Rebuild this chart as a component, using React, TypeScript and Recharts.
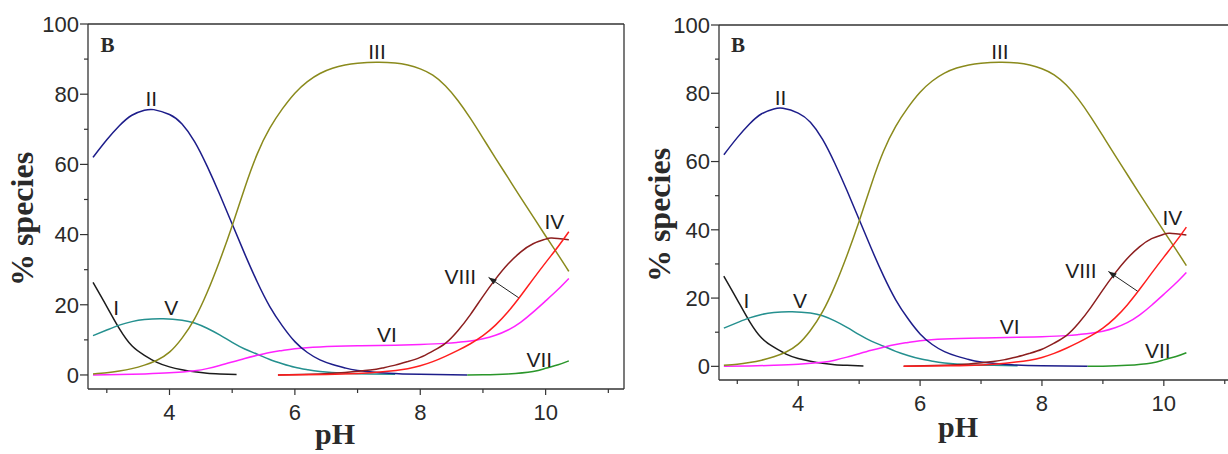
import React from 'react';
import { LineChart, Line, XAxis, YAxis, ReferenceDot, ReferenceLine } from 'recharts';

// species curves: pH grid + % values
const phI = [2.78, 3.0, 3.2, 3.4, 3.6, 3.8, 4.0, 4.2, 4.4, 4.6, 4.8, 5.07];
const spI = [26.4, 19.5, 13.2, 8.3, 5.6, 3.6, 2.3, 1.5, 0.9, 0.5, 0.3, 0.1];

const phII = [2.78, 3.0, 3.2, 3.4, 3.6, 3.75, 4.0, 4.2, 4.4, 4.6, 4.8, 5.0, 5.2, 5.4, 5.6, 5.8, 6.0, 6.2, 6.4, 6.6, 6.8, 7.0, 7.5, 8.0, 8.75];
const spII = [62, 67, 71, 74, 75.4, 75.6, 74.2, 71.5, 66.5, 59.5, 51.5, 43, 34.5, 26.5, 19.5, 14, 9.5, 6.4, 4.3, 3, 2, 1.3, 0.5, 0.2, 0];

const phIII = [2.78, 3.0, 3.2, 3.4, 3.6, 3.8, 4.0, 4.2, 4.4, 4.6, 4.8, 5.0, 5.2, 5.4, 5.6, 5.8, 6.0, 6.2, 6.4, 6.6, 6.8, 7.0, 7.3, 7.6, 7.8, 8.0, 8.2, 8.4, 8.6, 8.8, 9.0, 9.2, 9.4, 9.6, 9.8, 10.0, 10.2, 10.37];
const spIII = [0.3, 0.6, 1.1, 1.8, 2.8, 4.2, 6.5, 10.5, 16, 23.5, 32.5, 42.5, 53.3, 63, 70.3, 75.8, 80.3, 83.6, 85.9, 87.4, 88.3, 88.8, 89.1, 88.9, 88.3, 87.2, 85.4, 82.4, 78.2, 73.1, 67.5, 61.8, 56.2, 50.6, 45.1, 39.6, 34.2, 29.5];

const phIV = [5.73, 6.4, 6.8, 7.2, 7.4, 7.6, 7.8, 8.0, 8.2, 8.4, 8.6, 8.8, 9.0, 9.2, 9.4, 9.6, 9.8, 10.0, 10.1, 10.37];
const spIV = [0, 0.3, 0.7, 1.4, 2.0, 2.8, 3.8, 5.0, 6.8, 9.0, 12.6, 17.2, 22.4, 27.3, 31.6, 35.0, 37.4, 38.7, 39.0, 38.5];

const phV = [2.78, 3.0, 3.2, 3.4, 3.6, 3.9, 4.2, 4.4, 4.6, 4.8, 5.0, 5.2, 5.4, 5.6, 5.8, 6.0, 6.2, 6.4, 6.8, 7.2, 7.6];
const spV = [11.2, 12.8, 14.2, 15.2, 15.8, 16, 15.6, 14.8, 13.3, 11.4, 9.3, 7.4, 5.9, 4.4, 3.2, 2.2, 1.5, 1.0, 0.5, 0.3, 0.2];

const phVI = [2.78, 3.2, 3.6, 4.0, 4.4, 4.6, 4.8, 5.0, 5.2, 5.4, 5.6, 5.8, 6.0, 6.4, 7.0, 7.6, 8.0, 8.4, 8.6, 8.8, 9.0, 9.2, 9.4, 9.6, 9.8, 10.0, 10.2, 10.37];
const spVI = [0, 0.1, 0.3, 0.6, 1.2, 1.8, 2.7, 3.7, 4.7, 5.6, 6.4, 7.0, 7.5, 8.0, 8.3, 8.5, 8.7, 9.0, 9.3, 9.7, 10.3, 11.3, 12.8, 15.0, 17.9, 21.1, 24.4, 27.5];

const phVII = [8.75, 9.0, 9.4, 9.8, 10.0, 10.2, 10.37];
const spVII = [0, 0.05, 0.3, 1.0, 1.9, 2.9, 4.0];

const phVIII = [5.73, 6.5, 7.0, 7.4, 7.8, 8.0, 8.2, 8.4, 8.6, 8.8, 9.0, 9.2, 9.4, 9.6, 9.8, 10.0, 10.2, 10.37];
const spVIII = [0, 0.15, 0.4, 0.9, 1.8, 2.6, 3.8, 5.3, 7.0, 8.9, 11.2, 14.2, 18.0, 22.5, 27.3, 32.0, 36.6, 40.8];

// curve labels (text anchor, in pH / % units)
const labelNames = ['I', 'II', 'III', 'IV', 'V', 'VI', 'VII', 'VIII'];
const labelPh = [3.15, 3.71, 7.31, 10.14, 4.03, 7.47, 9.9, 8.64];
const labelVal = [17.2, 76.5, 90.0, 41.5, 17.2, 9.5, 2.3, 25.8];

const xMajor = [4, 6, 8, 10];
const xTicks = [3, 4, 5, 6, 7, 8, 9, 10, 11];
const yTicks = [0, 10, 20, 30, 40, 50, 60, 70, 80, 90, 100];

const zip = (xs: number[], ys: number[]) => xs.map((x, i) => ({ ph: x, v: ys[i] }));

const series = [
  { name: 'I', data: zip(phI, spI), color: '#1c1c1c' },
  { name: 'V', data: zip(phV, spV), color: '#25908f' },
  { name: 'VI', data: zip(phVI, spVI), color: '#ff22ff' },
  { name: 'II', data: zip(phII, spII), color: '#1d1d8a' },
  { name: 'VII', data: zip(phVII, spVII), color: '#2a962a' },
  { name: 'III', data: zip(phIII, spIII), color: '#8a8a1c' },
  { name: 'IV', data: zip(phIV, spIV), color: '#8c1e1e' },
  { name: 'VIII', data: zip(phVIII, spVIII), color: '#ff1e1e' },
];

const AXIS = '#333';
const TICK_FONT = '"Liberation Sans", Arial, sans-serif';
const SERIF = '"Liberation Serif", "Times New Roman", serif';

const YTick = (p: any) => {
  const v = p.payload.value;
  const major = v % 20 === 0;
  return (
    <g>
      <line x1={p.x} x2={p.x - (major ? 8 : 4)} y1={p.y} y2={p.y} stroke={AXIS} strokeWidth={1.2} />
      {major && (
        <text x={p.x - 9} y={p.y} dy="0.36em" textAnchor="end" fontSize={22} fontFamily={TICK_FONT} fill="#2a2a2a">
          {v}
        </text>
      )}
    </g>
  );
};

const XTick = (p: any) => {
  const v = p.payload.value;
  const major = xMajor.includes(v);
  return (
    <g>
      <line x1={p.x} x2={p.x} y1={p.y} y2={p.y + (major ? 6 : 4)} stroke={AXIS} strokeWidth={1.2} />
      {major && (
        <text x={p.x} y={p.y + 14} dy="0.75em" textAnchor="middle" fontSize={22} fontFamily={TICK_FONT} fill="#2a2a2a">
          {v}
        </text>
      )}
    </g>
  );
};

const Arrow = (p: any) => {
  const { x1, y1, x2, y2 } = p;
  const a = Math.atan2(y1 - y2, x1 - x2);
  const L = 8;
  const W = 3;
  const bx = x1 - L * Math.cos(a);
  const by = y1 - L * Math.sin(a);
  const pts = [
    `${x1},${y1}`,
    `${bx - W * Math.sin(a)},${by + W * Math.cos(a)}`,
    `${bx + W * Math.sin(a)},${by - W * Math.cos(a)}`,
  ].join(' ');
  return (
    <g>
      <line x1={x1} y1={y1} x2={x2} y2={y2} stroke="#222" strokeWidth={1} />
      <polygon points={pts} fill="#222" />
    </g>
  );
};

// plot box: left/top/right/bottom in px inside each panel svg
const Panel = ({ width, box }: { width: number; box: number[] }) => {
  const [l, t, r, b] = box;
  return (
    <LineChart width={width} height={454} margin={{ left: l - 60, top: t - 2, right: width - r - 2, bottom: 454 - b - 40 }}>
      <XAxis
        xAxisId="b"
        dataKey="ph"
        type="number"
        domain={[2.7, 11.25]}
        ticks={xTicks}
        allowDataOverflow
        tickSize={0}
        tickMargin={0}
        tickLine={false}
        tick={<XTick />}
        height={40}
        stroke={AXIS}
        strokeWidth={1.3}
      />
      <XAxis
        xAxisId="t"
        orientation="top"
        type="number"
        domain={[2.7, 11.25]}
        ticks={xTicks}
        tick={false}
        tickSize={3}
        mirror
        height={2}
        stroke={AXIS}
        strokeWidth={1.3}
      />
      <YAxis
        yAxisId="l"
        type="number"
        domain={[-4, 100]}
        ticks={yTicks}
        allowDataOverflow
        tickSize={0}
        tickMargin={0}
        tickLine={false}
        tick={<YTick />}
        width={60}
        stroke={AXIS}
        strokeWidth={1.3}
      />
      <YAxis
        yAxisId="r"
        orientation="right"
        type="number"
        domain={[-4, 100]}
        ticks={yTicks}
        tick={false}
        tickSize={3}
        mirror
        width={2}
        stroke={AXIS}
        strokeWidth={1.3}
      />
      {series.map((s) => (
        <Line
          key={s.name}
          xAxisId="b"
          yAxisId="l"
          data={s.data}
          dataKey="v"
          type="natural"
          stroke={s.color}
          strokeWidth={1.5}
          dot={false}
          activeDot={false}
          isAnimationActive={false}
        />
      ))}
      {labelNames.map((n, i) => (
        <ReferenceDot
          key={n}
          xAxisId="b"
          yAxisId="l"
          x={labelPh[i]}
          y={labelVal[i]}
          shape={(p: any) => (
            <text x={p.cx} y={p.cy} textAnchor="middle" fontSize={21} fontFamily={TICK_FONT} fill="#1e1e1e">
              {n}
            </text>
          )}
        />
      ))}
      <ReferenceDot
        xAxisId="b"
        yAxisId="l"
        x={3.01}
        y={92}
        shape={(p: any) => (
          <text x={p.cx} y={p.cy} textAnchor="middle" fontSize={21} fontWeight="bold" fontFamily={SERIF} fill="#2a2a2a">
            B
          </text>
        )}
      />
      <ReferenceLine
        xAxisId="b"
        yAxisId="l"
        segment={[
          { x: 9.09, y: 27.8 },
          { x: 9.57, y: 22 },
        ]}
        shape={<Arrow />}
      />
    </LineChart>
  );
};

export default function App() {
  return (
    <div style={{ position: 'absolute', left: 0, top: 0, width: 1228, height: 454, overflow: 'hidden', background: '#fff' }}>
      <div style={{ position: 'absolute', left: 0, top: 0 }}>
        <Panel width={640} box={[88, 26, 622, 389]} />
      </div>
      <div style={{ position: 'absolute', left: 640, top: 0 }}>
        <Panel width={620} box={[79, 27, 598, 380]} />
      </div>
      <svg width={1228} height={454} style={{ position: 'absolute', left: 0, top: 0, pointerEvents: 'none' }}>
        <text transform="translate(33,219) rotate(-90)" textAnchor="middle" fontSize={32} fontWeight="bold" fontFamily={SERIF} fill="#2a2a2a">
          % species
        </text>
        <text x={335} y={444} textAnchor="middle" fontSize={30} fontWeight="bold" fontFamily={SERIF} fill="#2a2a2a">
          pH
        </text>
        <text transform="translate(670,215) rotate(-90)" textAnchor="middle" fontSize={32} fontWeight="bold" fontFamily={SERIF} fill="#2a2a2a">
          % species
        </text>
        <text x={958} y={437} textAnchor="middle" fontSize={30} fontWeight="bold" fontFamily={SERIF} fill="#2a2a2a">
          pH
        </text>
      </svg>
    </div>
  );
}
